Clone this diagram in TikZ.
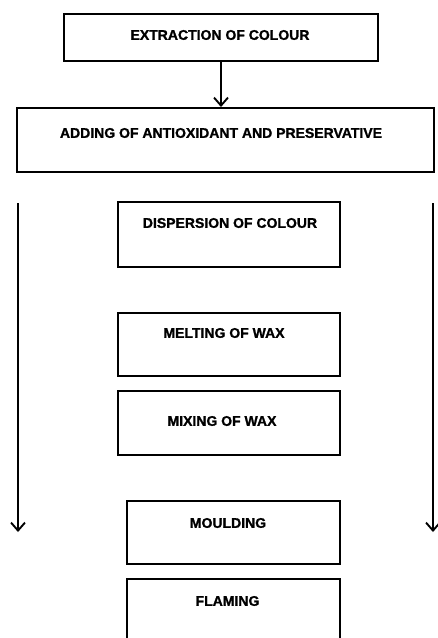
\documentclass[tikz,border=0pt]{standalone}
\usepackage{fontspec}
\setmainfont{Liberation Sans}
\newfontfamily\heavyfont[FakeBold=1.2]{Liberation Sans Bold}
\usetikzlibrary{arrows.meta}
\begin{document}
\begin{tikzpicture}[x=1pt,y=-1pt,
  box/.style={draw,line width=2pt,inner sep=0pt},
  lbl/.style={font=\fontsize{14}{16}\heavyfont,inner sep=0pt},
  arr/.style={line width=1.9pt,-{Straight Barb[length=8pt,width=14pt,line width=1.9pt]}}]
\clip (0,0) rectangle (438,638);
\useasboundingbox (0,0) rectangle (438,638);
% boxes
\node[box,minimum width=314pt,minimum height=47pt] (b1) at (221,37.5) {};
\node[box,minimum width=417pt,minimum height=64pt] (b2) at (225.5,140) {};
\node[box,minimum width=222pt,minimum height=65pt] (b3) at (229,234.5) {};
\node[box,minimum width=222pt,minimum height=63pt] (b4) at (229,344.5) {};
\node[box,minimum width=222pt,minimum height=64pt] (b5) at (229,423) {};
\node[box,minimum width=213pt,minimum height=63pt] (b6) at (233.5,532.5) {};
\node[box,minimum width=213pt,minimum height=65pt] (b7) at (233.5,611.5) {};
% labels
\node[lbl] (t1) at (220,35) {EXTRACTION OF COLOUR};
\node[lbl] (t2) at (221,133) {ADDING OF ANTIOXIDANT AND PRESERVATIVE};
\node[lbl] (t3) at (230,223) {DISPERSION OF COLOUR};
\node[lbl] (t4) at (224,333) {MELTING OF WAX};
\node[lbl] (t5) at (222,421) {MIXING OF WAX};
\node[lbl] (t6) at (228,523) {MOULDING};
\node[lbl] (t7) at (227.5,601) {FLAMING};
% connectors
\draw[arr] (b1.south) -- (b1.south |- b2.north);
\coordinate (ls) at (18,203);
\coordinate (le) at (18,532);
\coordinate (rs) at (433,203);
\coordinate (re) at (433,532);
\draw[arr] (ls) -- (le);
\draw[arr] (rs) -- (re);
\end{tikzpicture}
\end{document}
